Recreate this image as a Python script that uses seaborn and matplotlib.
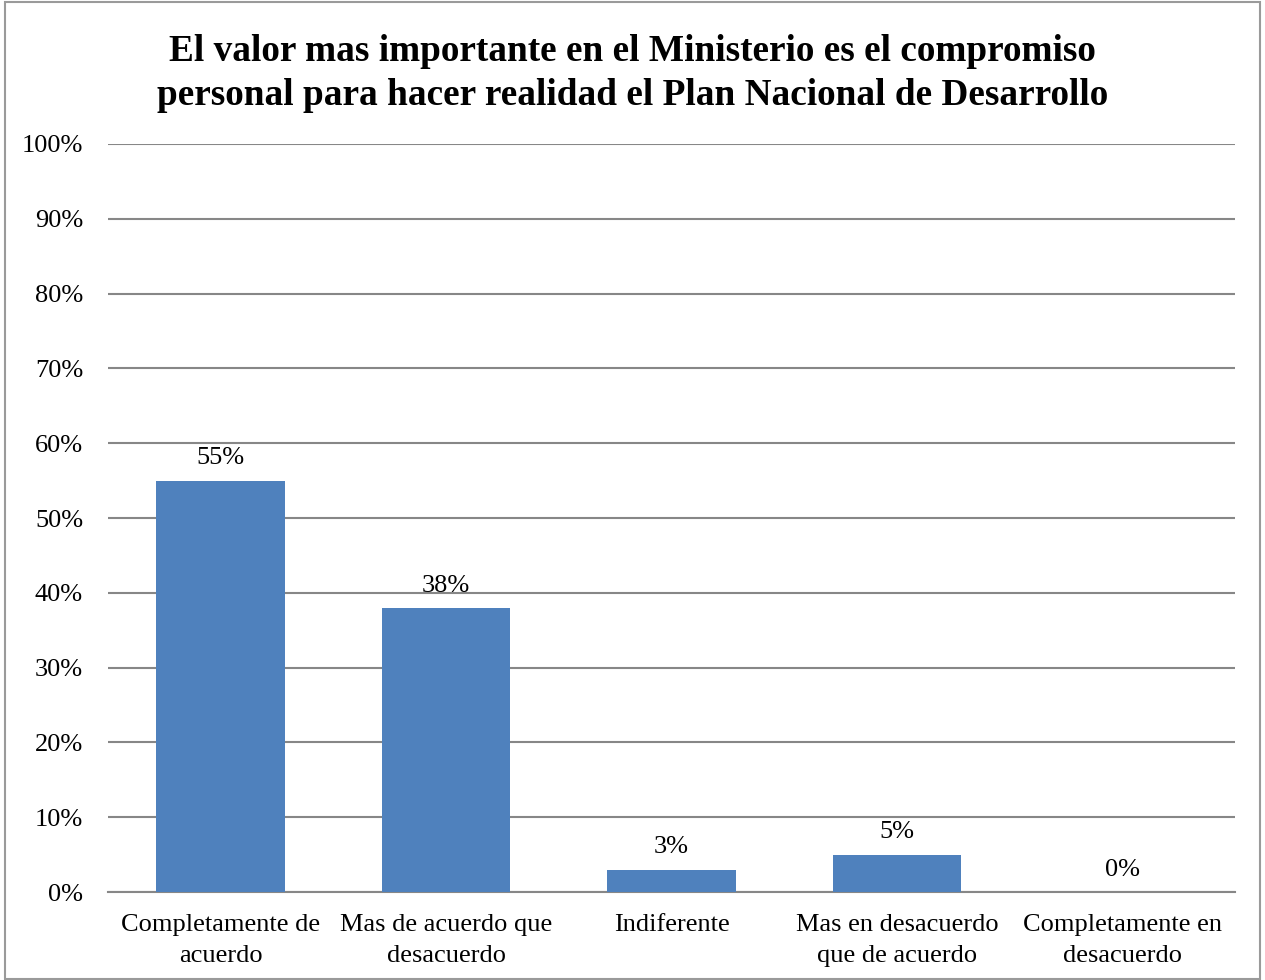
import matplotlib.pyplot as plt
import seaborn as sns
import pandas as pd
from matplotlib.ticker import PercentFormatter
from matplotlib.patches import Rectangle

categorias = ['Completamente de\nacuerdo', 'Mas de acuerdo que\ndesacuerdo', 'Indiferente',
              'Mas en desacuerdo\nque de acuerdo', 'Completamente en\ndesacuerdo']
valores = [55, 38, 3, 5, 0]
etiquetas = ['55%', '38%', '3%', '5%', '0%']

df = pd.DataFrame({'categoria': categorias, 'valor': valores})

sns.set_theme(style='white')
plt.rcParams['font.family'] = ['Liberation Serif', 'DejaVu Serif']
plt.rcParams['text.color'] = 'black'

fig = plt.figure(figsize=(12.65, 9.8), dpi=100)
ax = fig.add_axes([108 / 1265, 1 - 892 / 980, (1235 - 108) / 1265, (892 - 144) / 980])

sns.barplot(data=df, x='categoria', y='valor', color='#4F81BD', saturation=1,
            width=0.57, linewidth=0, ax=ax, zorder=3)

ax.set_ylim(0, 100)
ax.set_yticks(range(0, 101, 10))
ax.yaxis.set_major_formatter(PercentFormatter(decimals=0))
ax.grid(axis='y', color='#878787', linewidth=1.5, zorder=0)
ax.set_axisbelow(True)
for s in ['top', 'right', 'left']:
    ax.spines[s].set_visible(False)
ax.spines['bottom'].set_color('#878787')
ax.spines['bottom'].set_linewidth(1.5)
ax.tick_params(axis='both', length=0, labelsize=19, labelcolor='black')
ax.tick_params(axis='y', pad=18)
ax.tick_params(axis='x', pad=16)
ax.set_xlabel('')
ax.set_ylabel('')
for lbl in ax.get_xticklabels():
    lbl.set_linespacing(1.5)

for i, (v, t) in enumerate(zip(valores, etiquetas)):
    ax.annotate(t, (i, v), xytext=(0, 8), textcoords='offset points',
                ha='center', va='bottom', fontsize=19, color='black')

fig.suptitle('El valor mas importante en el Ministerio es el compromiso\n'
             'personal para hacer realidad el Plan Nacional de Desarrollo',
             y=0.965, fontsize=26.8, fontweight='bold', linespacing=1.32, color='black')

fig.patches.append(Rectangle((0.004, 0.001), 0.992, 0.997, transform=fig.transFigure,
                             fill=False, edgecolor='#9a9a9a', linewidth=1.5))

fig.savefig('out.png', dpi=100)
